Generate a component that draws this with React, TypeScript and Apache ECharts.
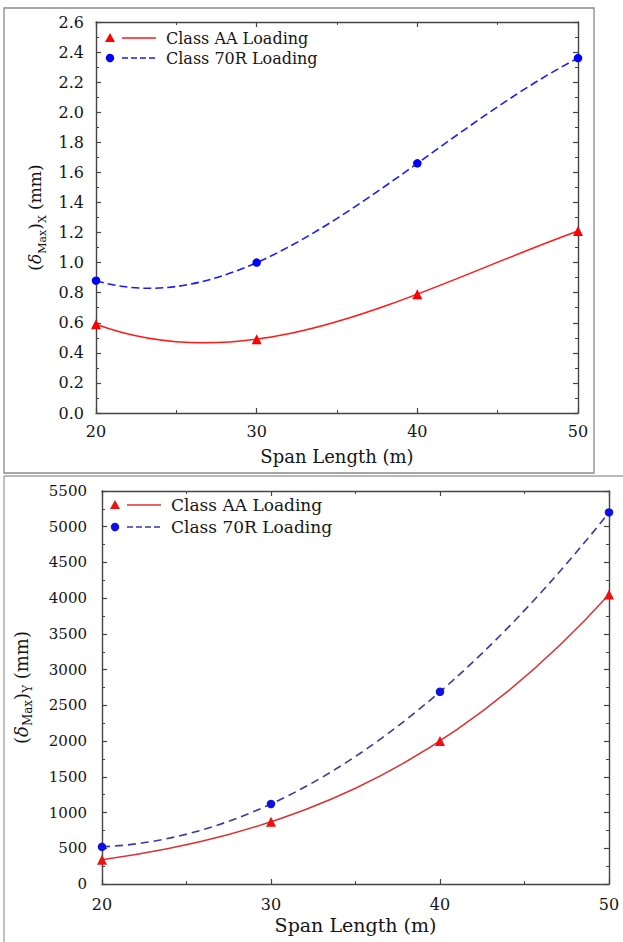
import React, { useEffect, useRef } from "react";
import * as echarts from "echarts";

// ---- data ----
const spanLengths = [20, 30, 40, 50];
const legendLabels = ["Class AA Loading", "Class 70R Loading"];
// top panel: (δMax)X in mm
const deflXClassAA = [0.59, 0.49, 0.79, 1.21];
const deflXClass70R = [0.88, 1.0, 1.66, 2.36];
// bottom panel: (δMax)Y in mm
const deflYClassAA = [340, 870, 2000, 4050];
const deflYClass70R = [520, 1120, 2690, 5200];

const FONT = "DejaVu Serif";
const TXT = "#151515";
const AXIS = "#444";

function pairs(ys: number[]) {
  return spanLengths.map((x, i) => [x, ys[i]]);
}

function axisCommon(gridIndex: number, showLabel: boolean, fontSize: number, margin: number) {
  return {
    gridIndex,
    axisLine: { show: true, onZero: false, lineStyle: { color: AXIS, width: 1.4 } },
    axisTick: { show: true, inside: true, length: 5, lineStyle: { color: AXIS, width: 1.2 } },
    minorTick: { show: true, splitNumber: 2, length: 3, lineStyle: { color: AXIS, width: 1 } },
    splitLine: { show: false },
    minorSplitLine: { show: false },
    axisLabel: {
      show: showLabel,
      fontFamily: FONT,
      fontSize,
      color: TXT,
      margin,
    },
  };
}

function yName(sub: string, gap: number, size: number, subSize: number) {
  return {
    name: `({d|δ}{s|Max}){s|${sub}} (mm)`,
    nameLocation: "middle",
    nameGap: gap,
    nameRotate: 90,
    nameTextStyle: {
      fontFamily: FONT,
      fontSize: size,
      color: TXT,
      lineHeight: size + 8,
      rich: {
        d: { fontFamily: FONT, fontSize: size, fontStyle: "italic", color: TXT, verticalAlign: "middle" },
        s: { fontFamily: FONT, fontSize: subSize, color: TXT, verticalAlign: "bottom", lineHeight: subSize },
      },
    },
  };
}

// Smooth curve through the series' own points (drawn through the axis scales with api.coord):
// a single cubic Bézier passing through all four points at equal parameter steps.
function curveSeries(xi: number, yi: number, ys: number[], color: string, width: number, dash: number[] | null) {
  const cp = (a0: number, a1: number, a2: number, a3: number) => {
    const A = 27 * a1 - 8 * a0 - a3;
    const C = 27 * a2 - a0 - 8 * a3;
    return [(2 * A - C) / 18, (2 * C - A) / 18];
  };
  return {
    type: "custom",
    coordinateSystem: "cartesian2d",
    xAxisIndex: xi,
    yAxisIndex: yi,
    data: pairs(ys),
    encode: { x: 0, y: 1 },
    silent: true,
    z: 2,
    renderItem: (params: any, api: any) => {
      if (params.dataIndexInside !== 0) return null;
      const pts = [0, 1, 2, 3].map((i) => api.coord([api.value(0, i), api.value(1, i)]));
      const [p0, p1, p2, p3] = pts;
      const [cx1, cx2] = cp(p0[0], p1[0], p2[0], p3[0]);
      const [cy1, cy2] = cp(p0[1], p1[1], p2[1], p3[1]);
      return {
        type: "bezierCurve",
        shape: { x1: p0[0], y1: p0[1], cpx1: cx1, cpy1: cy1, cpx2: cx2, cpy2: cy2, x2: p3[0], y2: p3[1] },
        style: { stroke: color, lineWidth: width, lineDash: dash || undefined, fill: "none" },
      };
    },
  };
}

function markerSeries(xi: number, yi: number, ys: number[], symbol: string, size: number, color: string, name: string) {
  return {
    name,
    type: "scatter",
    xAxisIndex: xi,
    yAxisIndex: yi,
    data: pairs(ys),
    symbol,
    symbolSize: size,
    itemStyle: { color, opacity: 1 },
    z: 4,
  };
}

function legendGraphic(
  x: number,
  y1: number,
  y2: number,
  colors: { m1: string; l1: string; m2: string; l2: string },
  fontSize: number,
  dash: number[]
) {
  const mx = x;
  const lx0 = x + 12;
  const lx1 = x + 46;
  const tx = x + 56;
  return [
    {
      type: "polygon",
      shape: { points: [[mx - 5, y1 + 4], [mx + 5, y1 + 4], [mx, y1 - 5]] },
      style: { fill: colors.m1 },
    },
    {
      type: "line",
      shape: { x1: lx0, y1: y1, x2: lx1, y2: y1 },
      style: { stroke: colors.l1, lineWidth: 1.4 },
    },
    {
      type: "text",
      x: tx,
      y: y1,
      style: { text: legendLabels[0], font: `${fontSize}px "${FONT}"`, fill: TXT, verticalAlign: "middle", align: "left" },
    },
    {
      type: "circle",
      shape: { cx: mx, cy: y2, r: 4.2 },
      style: { fill: colors.m2 },
    },
    {
      type: "line",
      shape: { x1: lx0, y1: y2, x2: lx1, y2: y2 },
      style: { stroke: colors.l2, lineWidth: 1.4, lineDash: dash },
    },
    {
      type: "text",
      x: tx,
      y: y2,
      style: { text: legendLabels[1], font: `${fontSize}px "${FONT}"`, fill: TXT, verticalAlign: "middle", align: "left" },
    },
  ];
}

export default function App() {
  const ref = useRef<HTMLDivElement>(null);

  useEffect(() => {
    document.body.style.margin = "0";
    if (!ref.current) return;
    const chart = echarts.init(ref.current, null, { renderer: "svg" });

    const topColors = { m1: "#ff0000", l1: "#ff1a1a", m2: "#0000ff", l2: "#1a1aff" };
    const botColors = { m1: "#ee1111", l1: "#dc3232", m2: "#1010e6", l2: "#3838a8" };

    const option: any = {
      animation: false,
      backgroundColor: "#ffffff",
      grid: [
        { left: 96, right: 45, top: 22, bottom: 529, containLabel: false },
        { left: 102, right: 14, top: 491, bottom: 58, containLabel: false },
      ],
      xAxis: [
        {
          ...axisCommon(0, true, 16, 10),
          type: "value",
          position: "bottom",
          min: 20,
          max: 50,
          interval: 10,
          name: "Span Length (m)",
          nameLocation: "middle",
          nameGap: 34,
          nameTextStyle: { fontFamily: FONT, fontSize: 18, color: TXT },
        },
        { ...axisCommon(0, false, 16, 8), type: "value", position: "top", min: 20, max: 50, interval: 10 },
        {
          ...axisCommon(1, true, 16, 12),
          type: "value",
          position: "bottom",
          min: 20,
          max: 50,
          interval: 10,
          name: "Span Length (m)",
          nameLocation: "middle",
          nameGap: 31,
          nameTextStyle: { fontFamily: FONT, fontSize: 19, color: TXT },
        },
        { ...axisCommon(1, false, 16, 8), type: "value", position: "top", min: 20, max: 50, interval: 10 },
      ],
      yAxis: [
        {
          ...axisCommon(0, true, 16, 12),
          type: "value",
          position: "left",
          min: 0,
          max: 2.6,
          interval: 0.2,
          axisLabel: {
            ...axisCommon(0, true, 16, 12).axisLabel,
            formatter: (v: number) => v.toFixed(1),
          },
          ...yName("X", 46, 17, 11),
        },
        { ...axisCommon(0, false, 16, 8), type: "value", position: "right", min: 0, max: 2.6, interval: 0.2 },
        {
          ...axisCommon(1, true, 15, 15),
          type: "value",
          position: "left",
          min: 0,
          max: 5500,
          interval: 500,
          axisLabel: {
            ...axisCommon(1, true, 15, 15).axisLabel,
            formatter: (v: number) => String(Math.round(v)),
          },
          ...yName("Y", 68, 18, 12),
        },
        { ...axisCommon(1, false, 15, 8), type: "value", position: "right", min: 0, max: 5500, interval: 500 },
      ],
      series: [
        curveSeries(0, 0, deflXClassAA, topColors.l1, 1.5, null),
        curveSeries(0, 0, deflXClass70R, topColors.l2, 1.6, [8, 4]),
        markerSeries(0, 0, deflXClassAA, "triangle", 10, topColors.m1, legendLabels[0]),
        markerSeries(0, 0, deflXClass70R, "circle", 8.5, topColors.m2, legendLabels[1]),
        curveSeries(2, 2, deflYClassAA, botColors.l1, 1.5, null),
        curveSeries(2, 2, deflYClass70R, botColors.l2, 1.6, [8, 5]),
        markerSeries(2, 2, deflYClassAA, "triangle", 10, botColors.m1, legendLabels[0]),
        markerSeries(2, 2, deflYClass70R, "circle", 8.5, botColors.m2, legendLabels[1]),
      ],
      graphic: [
        // panel frames
        {
          type: "rect",
          shape: { x: 4, y: 8, width: 590, height: 465 },
          style: { fill: "none", stroke: "#8a8a8a", lineWidth: 1.3 },
          silent: true,
        },
        {
          type: "line",
          shape: { x1: 4, y1: 476, x2: 623, y2: 476 },
          style: { stroke: "#a0a0a0", lineWidth: 1.3 },
          silent: true,
        },
        {
          type: "line",
          shape: { x1: 4, y1: 476, x2: 4, y2: 942 },
          style: { stroke: "#a0a0a0", lineWidth: 1.3 },
          silent: true,
        },
        ...legendGraphic(110, 38, 58, topColors, 16, [6, 3]),
        ...legendGraphic(115, 505, 527, botColors, 17, [6, 3]),
      ],
    };

    chart.setOption(option);
    return () => {
      chart.dispose();
    };
  }, []);

  return <div ref={ref} style={{ width: 623, height: 942 }} />;
}
